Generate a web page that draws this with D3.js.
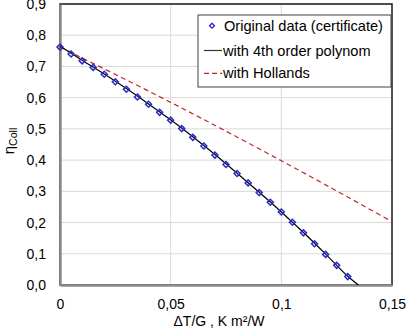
<!DOCTYPE html>
<html>
<head>
<meta charset="utf-8">
<script src="https://cdn.jsdelivr.net/npm/d3@7"></script>
<style>
  body { margin: 0; background: #fff; }
  svg { display: block; font-family: "Liberation Sans", Arial, sans-serif; }
</style>
</head>
<body>
<svg width="406" height="328"></svg>
<script>
// measured points (certificate)
const dataX = [0, 0.005, 0.01, 0.015, 0.02, 0.025, 0.03, 0.035, 0.04, 0.045, 0.05, 0.055, 0.06,
  0.065, 0.07, 0.075, 0.08, 0.085, 0.09, 0.095, 0.1, 0.105, 0.11, 0.115, 0.12, 0.125, 0.13];
const dataY = [0.762, 0.740, 0.718, 0.697, 0.675, 0.651, 0.627, 0.602, 0.579, 0.553, 0.528, 0.501, 0.473,
  0.445, 0.416, 0.386, 0.357, 0.327, 0.296, 0.265, 0.234, 0.201, 0.167, 0.132, 0.098, 0.063, 0.027];

// 4th order polynom fit
const polyX = [0, 0.01, 0.02, 0.03, 0.04, 0.05, 0.06, 0.07, 0.08, 0.09, 0.1, 0.11, 0.12, 0.13, 0.1348];
const polyY = [0.765, 0.720, 0.676, 0.629, 0.580, 0.529, 0.475, 0.418, 0.358, 0.297, 0.234, 0.168, 0.099, 0.028, 0];

// Hollands model
const hollX = [0, 0.05, 0.1, 0.15];
const hollY = [0.762, 0.585, 0.398, 0.203];

const xTicks = [0, 0.05, 0.1, 0.15];
const yTicks = [0, 0.1, 0.2, 0.3, 0.4, 0.5, 0.6, 0.7, 0.8, 0.9];
const legendLabels = ['Original data (certificate)', 'with 4th order polynom', 'with Hollands'];

const fmt = v => String(v).replace('.', ',');
const fmtY = v => v.toFixed(1).replace('.', ',');

const x = d3.scaleLinear().domain([0, 0.15]).range([60, 392]);
const y = d3.scaleLinear().domain([0, 0.9]).range([285, 4]);

const svg = d3.select('svg');

// grid
svg.append('g')
  .selectAll('line')
  .data(yTicks.slice(1))
  .join('line')
  .attr('x1', x(0)).attr('x2', x(0.15))
  .attr('y1', d => y(d)).attr('y2', d => y(d))
  .attr('stroke', '#d9d9d9').attr('stroke-width', 1);
svg.append('g')
  .selectAll('line')
  .data(xTicks.slice(1, 3))
  .join('line')
  .attr('x1', d => x(d)).attr('x2', d => x(d))
  .attr('y1', y(0)).attr('y2', y(0.9))
  .attr('stroke', '#d9d9d9').attr('stroke-width', 1);

// frame
svg.append('rect')
  .attr('x', x(0)).attr('y', y(0.9))
  .attr('width', x(0.15) - x(0)).attr('height', y(0) - y(0.9))
  .attr('fill', 'none').attr('stroke', '#1a1a1a').attr('stroke-width', 1.5);

// axes (gray, no tick marks)
const xAxis = d3.axisBottom(x).tickValues(xTicks).tickFormat(fmt).tickSize(0).tickPadding(14);
const yAxis = d3.axisLeft(y).tickValues(yTicks).tickFormat(fmtY).tickSize(0).tickPadding(14);
const gx = svg.append('g').attr('transform', `translate(0,${y(0)})`).call(xAxis);
const gy = svg.append('g').attr('transform', `translate(${x(0)},0)`).call(yAxis);
[gx, gy].forEach(g => {
  g.select('.domain').attr('stroke', '#8c8c8c').attr('stroke-width', 2.5);
  g.selectAll('text').attr('font-size', 14).attr('fill', '#000')
    .attr('font-family', '"Liberation Sans", Arial, sans-serif');
});

// lines
const line = d3.line().x(d => x(d[0])).y(d => y(d[1]));

svg.append('path')
  .datum(hollX.map((v, i) => [v, hollY[i]]))
  .attr('d', line.curve(d3.curveMonotoneX))
  .attr('fill', 'none').attr('stroke', '#c0282a').attr('stroke-width', 1.2)
  .attr('stroke-dasharray', '5,3.5');

svg.append('path')
  .datum(polyX.map((v, i) => [v, polyY[i]]))
  .attr('d', line.curve(d3.curveMonotoneX))
  .attr('fill', 'none').attr('stroke', '#000').attr('stroke-width', 1.2);

// markers
const diamond = d3.symbol().type(d3.symbolSquare).size(18);
svg.append('g')
  .selectAll('path')
  .data(dataX.map((v, i) => [v, dataY[i]]))
  .join('path')
  .attr('d', diamond)
  .attr('transform', d => `translate(${x(d[0])},${y(d[1])}) rotate(45)`)
  .attr('fill', 'none').attr('stroke', '#2b2bc8').attr('stroke-width', 1.5);

// legend
const lg = svg.append('g');
lg.append('rect')
  .attr('x', 198).attr('y', 15).attr('width', 193).attr('height', 72)
  .attr('fill', '#fff').attr('stroke', '#404040').attr('stroke-width', 1);
const rows = [25.7, 50.5, 73.3];
lg.append('path')
  .attr('d', d3.symbol().type(d3.symbolSquare).size(12))
  .attr('transform', `translate(212,${rows[0]}) rotate(45)`)
  .attr('fill', 'none').attr('stroke', '#2b2bc8').attr('stroke-width', 1.3);
lg.append('line')
  .attr('x1', 204).attr('x2', 222).attr('y1', rows[1]).attr('y2', rows[1])
  .attr('stroke', '#333').attr('stroke-width', 1.2);
lg.append('line')
  .attr('x1', 204).attr('x2', 222).attr('y1', rows[2]).attr('y2', rows[2])
  .attr('stroke', '#c0282a').attr('stroke-width', 1.2).attr('stroke-dasharray', '5,3');
lg.selectAll('text')
  .data(legendLabels)
  .join('text')
  .attr('x', (d, i) => i === 0 ? 224 : 223)
  .attr('y', (d, i) => rows[i])
  .attr('dy', '0.35em')
  .attr('font-size', 14.6)
  .text(d => d);

// axis titles
svg.append('text')
  .attr('x', 219).attr('y', 326)
  .attr('text-anchor', 'middle').attr('font-size', 14)
  .text('ΔT/G , K m²/W');

const yt = svg.append('text')
  .attr('transform', 'translate(14,141) rotate(-90)')
  .attr('text-anchor', 'middle').attr('font-size', 15);
yt.append('tspan').text('η');
yt.append('tspan').attr('font-size', 10.5).attr('dy', 3).text('Coll');
</script>
</body>
</html>
